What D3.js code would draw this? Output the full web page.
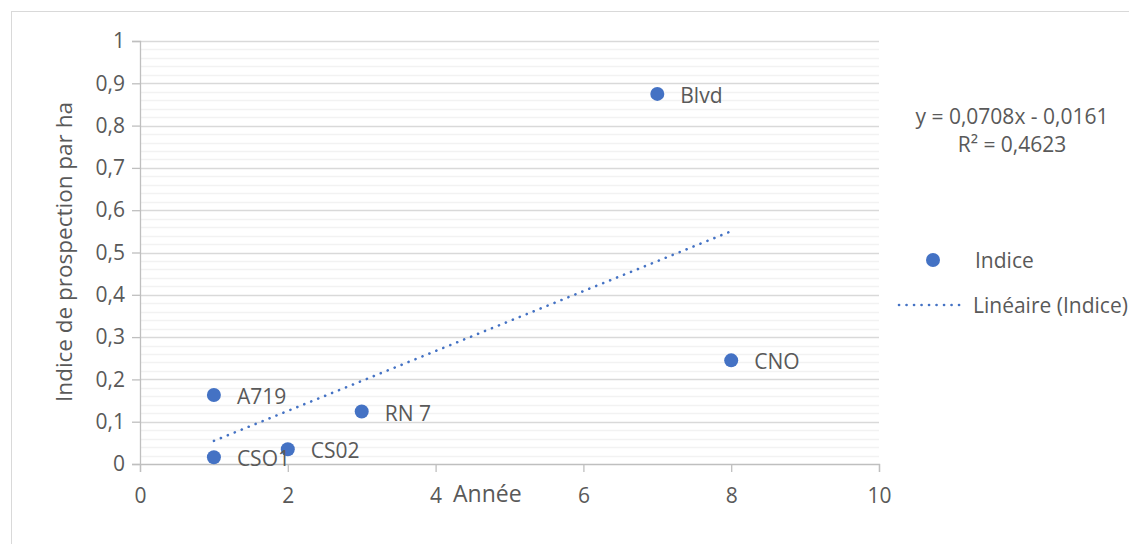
<!DOCTYPE html>
<html><head><meta charset="utf-8">
<script src="https://cdn.jsdelivr.net/npm/d3@7"></script>
<style>body{margin:0;background:#fff}svg{display:block}text{font-family:"Open Sans",sans-serif;fill:#595959}</style>
</head><body>
<svg id="c" width="1129" height="544"></svg>
<script>
const names = ["A719","CSO1","CS02","RN 7","Blvd","CNO"];
const years = [1,1,2,3,7,8];
const indices = [0.163,0.016,0.035,0.124,0.875,0.245];
const xTicks = [0,2,4,6,8,10];
const yTicks = [0,0.1,0.2,0.3,0.4,0.5,0.6,0.7,0.8,0.9,1];
const trendSlope = 0.0708, trendIntercept = -0.0161;
const trendRange = [1,8];
const eqLines = ["y = 0,0708x - 0,0161","R² = 0,4623"];

const svg = d3.select("#c");
const color = "#4472C4";
const x = d3.scaleLinear().domain([0,10]).range([140,879]);
const y = d3.scaleLinear().domain([0,1]).range([464,41]);
const fmt = d => String(+d.toFixed(2)).replace(".",",");

svg.append("rect").attr("x",11.5).attr("y",11.5).attr("width",1140).attr("height",560)
  .attr("fill","none").attr("stroke","#d9d9d9");

const minor = d3.range(0,1.0001,0.02).filter(v=>Math.abs(v*10-Math.round(v*10))>1e-6);
svg.append("g").selectAll("line").data(minor).join("line")
  .attr("x1",x(0)).attr("x2",x(10)).attr("y1",d=>Math.round(y(d))+0.5).attr("y2",d=>Math.round(y(d))+0.5)
  .attr("stroke","#f2f2f2").attr("stroke-width",1.3);
svg.append("g").selectAll("line").data(yTicks.slice(1)).join("line")
  .attr("x1",x(0)).attr("x2",x(10)).attr("y1",d=>Math.round(y(d))+0.5).attr("y2",d=>Math.round(y(d))+0.5)
  .attr("stroke","#d9d9d9").attr("stroke-width",1.3);

const ya = d3.axisLeft(y).tickValues(yTicks).tickFormat(fmt).tickSize(8).tickPadding(7);
const gy = svg.append("g").attr("transform",`translate(${x(0)},0)`).call(ya);
const xa = d3.axisBottom(x).tickValues(xTicks).tickFormat(d=>d).tickSize(8).tickPadding(16);
const gx = svg.append("g").attr("transform",`translate(0,${y(0)})`).call(xa);
[gy,gx].forEach(g=>{
  g.select(".domain").attr("stroke","#bfbfbf").attr("stroke-width",1.3);
  g.selectAll(".tick line").attr("stroke","#bfbfbf").attr("stroke-width",1.3);
  g.selectAll(".tick text").style("font-size","21px").style("font-family","'Open Sans',sans-serif").attr("fill","#595959");
});

svg.append("text").attr("x",453).attr("y",502).style("font-size","23px").text("Année");
svg.append("text").attr("transform","translate(72,252) rotate(-90)").attr("text-anchor","middle")
  .style("font-size","22.5px").text("Indice de prospection par ha");

svg.append("line")
  .attr("x1",x(trendRange[0])).attr("y1",y(trendSlope*trendRange[0]+trendIntercept))
  .attr("x2",x(trendRange[1])).attr("y2",y(trendSlope*trendRange[1]+trendIntercept))
  .attr("stroke",color).attr("stroke-width",2.6).attr("stroke-dasharray","0.1 7.4").attr("stroke-linecap","round");

const data = names.map((n,i)=>({n,x:years[i],y:indices[i]}));
svg.append("g").selectAll("circle").data(data).join("circle")
  .attr("cx",d=>x(d.x)).attr("cy",d=>y(d.y)).attr("r",7).attr("fill",color);
svg.append("g").selectAll("text").data(data).join("text")
  .attr("x",d=>x(d.x)+23).attr("y",d=>y(d.y)+9).style("font-size","21px").text(d=>d.n);

svg.append("g").selectAll("text").data(eqLines).join("text")
  .attr("x",1012).attr("y",(d,i)=>124+i*28).attr("text-anchor","middle").style("font-size","21px").text(d=>d);

svg.append("circle").attr("cx",933).attr("cy",260).attr("r",7).attr("fill",color);
svg.append("text").attr("x",975).attr("y",268).style("font-size","21px").text("Indice");
svg.append("line").attr("x1",899).attr("x2",966).attr("y1",305).attr("y2",305)
  .attr("stroke",color).attr("stroke-width",2.6).attr("stroke-dasharray","0.1 7.4").attr("stroke-linecap","round");
svg.append("text").attr("x",973).attr("y",313).style("font-size","21px").text("Linéaire (Indice)");
</script>
</body></html>
